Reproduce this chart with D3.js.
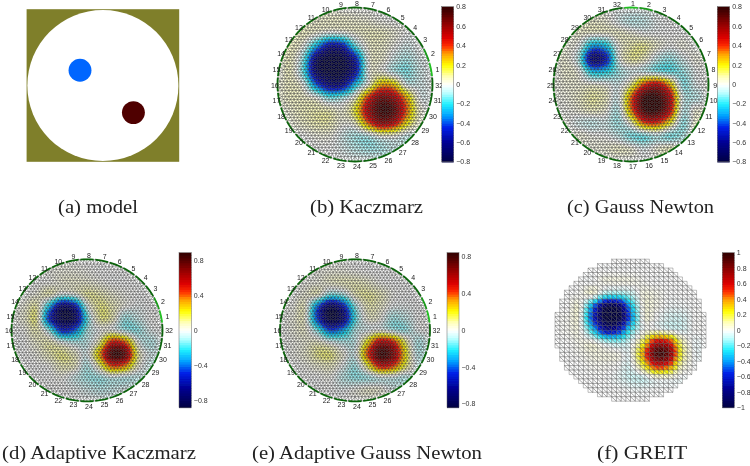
<!DOCTYPE html>
<html>
<head>
<meta charset="utf-8">
<style>
  body { margin: 0; background: #fff; }
  svg { display: block; }
  .caption { font-family: "Liberation Serif", serif; font-size: 18.5px; fill: #222; }
  .elec { font-family: "Liberation Sans", sans-serif; font-size: 7px; fill: #222; text-anchor: middle; }
  .tick text { font-family: "Liberation Sans", sans-serif; font-size: 7px; fill: #333; }
</style>
</head>
<body>
<div id="container"></div>
<script src="https://cdn.jsdelivr.net/npm/d3@7"></script>
<script>
// colormap, stops are fraction of the bar's limit
const cmapStops = [-1, -0.75, -0.55, -0.4, -0.25, -0.1, 0, 0.1, 0.25, 0.4, 0.5, 0.6, 0.75, 1];
const cmapColors = ["#000040", "#000090", "#0020e8", "#00a0ff", "#20f0ff", "#c0ffff", "#ffffff",
                    "#ffffc0", "#ffff00", "#ffa000", "#ff3000", "#e00000", "#a00000", "#300000"];

// conductivity change on a 13x13 grid, in hundredths (top row first)
const fieldKaczmarz = [
  [0,0,0,0,0,0,0,0,0,0,0,0,0],
  [0,0,2,4,5,5,4,3,1,0,0,0,0],
  [0,2,6,2,-3,-2,3,6,6,3,0,0,0],
  [0,6,0,-28,-56,-52,-16,3,5,1,-3,0,0],
  [0,6,-12,-66,-80,-78,-52,-1,4,-3,-8,-2,0],
  [0,6,-15,-68,-80,-79,-55,-2,3,-6,-12,-4,0],
  [2,6,-1,-38,-62,-60,-25,2,28,25,-2,-3,0],
  [2,6,5,0,-14,-10,4,40,65,57,28,0,0],
  [0,4,7,8,7,3,17,55,77,72,37,5,0],
  [0,2,5,8,8,2,6,36,60,52,22,3,0],
  [0,0,0,2,2,-3,-8,-6,3,3,-4,-3,0],
  [0,0,0,0,0,-2,-6,-9,-8,-4,-2,0,0],
  [0,0,0,0,0,0,0,0,0,0,0,0,0]
];
const fieldGaussNewton = [
  [0,0,0,0,0,0,0,0,0,0,0,0,0],
  [0,0,2,4,3,-2,-6,-5,-1,0,0,0,0],
  [0,0,4,3,3,5,3,0,0,0,0,0,0],
  [0,2,-2,-30,-26,0,8,10,4,0,2,0,0],
  [0,3,-10,-64,-52,-4,9,6,-5,-10,-3,2,0],
  [0,4,0,-24,-22,-10,-3,-4,-10,-14,-10,-1,0],
  [1,3,3,3,1,-3,10,40,52,28,-10,-2,1],
  [1,2,5,9,6,-2,35,76,79,54,-2,-6,1],
  [0,1,3,6,3,-6,33,75,79,52,-4,3,0],
  [0,1,-3,-5,-3,-9,6,38,42,20,-10,4,0],
  [0,0,3,1,0,-5,-12,-12,-6,-12,-8,4,0],
  [0,0,0,2,3,5,3,-2,3,6,3,0,0],
  [0,0,0,0,0,0,0,0,0,0,0,0,0]
];
const fieldAdaptiveKaczmarz = [
  [0,0,0,0,0,0,0,0,0,0,0,0,0],
  [0,0,0,1,2,2,1,0,0,0,0,0,0],
  [0,0,0,1,3,4,4,2,0,0,0,0,0],
  [0,0,3,7,-5,-2,10,9,4,1,0,0,0],
  [0,3,9,-30,-75,-62,-5,12,8,1,-1,0,0],
  [0,4,10,-50,-84,-77,-18,10,8,-10,-5,0,0],
  [0,1,8,-12,-52,-42,-10,0,2,-8,-12,-2,0],
  [0,0,5,8,-2,-8,-6,10,50,42,2,-8,0],
  [0,0,2,8,12,6,-2,32,83,76,14,-3,0],
  [0,0,0,1,8,6,-8,12,45,38,6,-4,0],
  [0,0,0,0,1,-4,-10,-10,-4,-6,-6,0,0],
  [0,0,0,0,0,-1,-4,-7,-5,-2,0,0,0],
  [0,0,0,0,0,0,0,0,0,0,0,0,0]
];
const fieldAdaptiveGaussNewton = [
  [0,0,0,0,0,0,0,0,0,0,0,0,0],
  [0,0,0,1,2,2,1,0,0,0,0,0,0],
  [0,0,1,2,4,6,7,5,1,0,0,0,0],
  [0,0,3,4,-14,-10,6,10,7,1,0,0,0],
  [0,1,4,-40,-75,-56,-12,7,5,-1,-1,0,0],
  [0,2,3,-45,-82,-68,-18,3,2,-9,-6,0,0],
  [0,2,4,-14,-42,-32,-8,-2,2,-6,-10,-1,0],
  [0,1,3,5,-2,-7,-5,22,55,48,14,-8,0],
  [0,1,4,11,12,3,-2,40,80,68,24,-6,0],
  [0,0,1,4,6,-1,-9,16,50,44,16,-3,0],
  [0,0,0,0,1,-6,-11,-9,-3,-3,-7,-1,0],
  [0,0,0,0,0,-1,1,4,3,-2,-1,0,0],
  [0,0,0,0,0,0,0,0,0,0,0,0,0]
];
const fieldGreit = [
  [0,0,0,0,0,0,0,0,0,0,0,0,0],
  [0,0,0,0,0,0,0,0,0,0,0,0,0],
  [0,0,0,0,2,2,2,1,0,0,0,0,0],
  [0,0,1,3,-15,-18,-10,3,2,0,0,0,0],
  [0,0,2,-42,-92,-90,-35,2,2,-1,-1,0,0],
  [0,1,0,-55,-100,-100,-45,1,0,-4,-5,0,0],
  [0,1,1,-28,-68,-62,-22,0,4,0,-4,0,0],
  [0,0,2,2,-8,-12,-4,20,62,58,14,-1,0],
  [0,0,1,3,3,2,0,38,92,85,22,0,0],
  [0,0,0,1,1,0,-3,20,55,48,10,0,0],
  [0,0,0,0,0,-2,-6,-5,3,3,-1,0,0],
  [0,0,0,0,0,0,-1,-1,0,0,0,0,0],
  [0,0,0,0,0,0,0,0,0,0,0,0,0]
];

const ticksEvery02 = [-0.8, -0.6, -0.4, -0.2, 0, 0.2, 0.4, 0.6, 0.8];
const ticksEvery04 = [-0.8, -0.4, 0, 0.4, 0.8];
const ticksGreit = [-1, -0.8, -0.6, -0.4, -0.2, 0, 0.2, 0.4, 0.6, 0.8, 1];
const electrodes = d3.range(1, 33);

// model image: inclusions in unit-disc coordinates
const modelInclusionX = [-0.30, 0.40];
const modelInclusionY = [-0.20, 0.355];
const modelInclusionR = [0.15, 0.15];
const modelInclusionColor = ["#0066ff", "#4f0000"];

const svg = d3.select("#container").append("svg")
    .attr("width", 750)
    .attr("height", 466);

svg.append("defs").append("filter")
    .attr("id", "soft")
    .attr("filterUnits", "userSpaceOnUse")
    .attr("x", 0).attr("y", 0).attr("width", 750).attr("height", 466)
  .append("feGaussianBlur")
    .attr("stdDeviation", 0.4);

const root = svg.append("g").attr("filter", "url(#soft)");

const cmap = d3.scaleLinear().domain(cmapStops).range(cmapColors).clamp(true);

// Catmull-Rom so the coarse grid doesn't show as diamonds
function cubic(p0, p1, p2, p3, t) {
    return p1 + 0.5 * t * (p2 - p0 + t * (2 * p0 - 5 * p1 + 4 * p2 - p3 + t * (3 * (p1 - p2) + p3 - p0)));
}

function sampleField(field, u, v) {
    const n = field.length - 1;
    const gx = Math.max(0, Math.min(n - 1e-6, (u + 1) / 2 * n));
    const gy = Math.max(0, Math.min(n - 1e-6, (v + 1) / 2 * n));
    const ix = Math.floor(gx), iy = Math.floor(gy);
    const at = (r, c) => field[Math.max(0, Math.min(n, r))][Math.max(0, Math.min(n, c))];
    const rows = [-1, 0, 1, 2].map(dr =>
        cubic(at(iy + dr, ix - 1), at(iy + dr, ix), at(iy + dr, ix + 1), at(iy + dr, ix + 2), gx - ix));
    return cubic(rows[0], rows[1], rows[2], rows[3], gy - iy) / 100;
}

// triangle mesh of the unit disc, shared by the four EIT panels
function buildMesh() {
    const s = 0.045;
    const pts = [];
    d3.range(-30, 31).forEach(j => {
        d3.range(-30, 31).forEach(i => {
            const x = (i + (j % 2 ? 0.5 : 0)) * s;
            const y = j * s * Math.sqrt(3) / 2;
            if (Math.hypot(x, y) < 1 - s * 0.6) pts.push([x, y]);
        });
    });
    const rim = Math.round(2 * Math.PI / s);
    d3.range(rim).forEach(k => {
        const a = 2 * Math.PI * k / rim;
        pts.push([Math.cos(a), Math.sin(a)]);
    });
    const del = d3.Delaunay.from(pts);
    const tris = [];
    for (let k = 0; k < del.triangles.length; k += 3) {
        tris.push([pts[del.triangles[k]], pts[del.triangles[k + 1]], pts[del.triangles[k + 2]]]);
    }
    return tris;
}

const meshTriangles = buildMesh();

function drawColorbar(box, limit, ticks) {
    const y = d3.scaleLinear().domain([-limit, limit]).range([box.bottom, box.top]);
    const bands = d3.range(64).map(i => -limit + (i + 0.5) * 2 * limit / 64);
    const g = root.append("g");
    g.selectAll("rect.band")
        .data(bands)
        .enter().append("rect")
        .attr("class", "band")
        .attr("x", box.left)
        .attr("y", d => y(d + limit / 64))
        .attr("width", box.right - box.left)
        .attr("height", (box.bottom - box.top) / 64 + 0.8)
        .attr("fill", d => cmap(d / limit));
    g.append("rect")
        .attr("x", box.left).attr("y", box.top)
        .attr("width", box.right - box.left).attr("height", box.bottom - box.top)
        .attr("fill", "none").attr("stroke", "#666").attr("stroke-width", 0.5);
    const axis = d3.axisRight(y)
        .tickValues(ticks)
        .tickSize(0)
        .tickPadding(2.5)
        .tickFormat(d3.format(".1~f"));
    g.append("g")
        .attr("transform", "translate(" + box.right + ",0)")
        .call(axis)
        .call(a => a.select(".domain").remove());
}

function drawEit(p) {
    const x = d3.scaleLinear().domain([-1, 1]).range([p.cx - p.rx, p.cx + p.rx]);
    const y = d3.scaleLinear().domain([-1, 1]).range([p.cy - p.ry, p.cy + p.ry]);
    const g = root.append("g");

    const line = d3.line().x(d => x(d[0])).y(d => y(d[1]));
    g.selectAll("path.tri")
        .data(meshTriangles)
        .enter().append("path")
        .attr("class", "tri")
        .attr("d", d => line(d) + "Z")
        .attr("fill", d => {
            const u = (d[0][0] + d[1][0] + d[2][0]) / 3;
            const v = (d[0][1] + d[1][1] + d[2][1]) / 3;
            return cmap(sampleField(p.field, u, v) / p.limit);
        })
        .attr("stroke", "#222")
        .attr("stroke-width", 0.32);

    // clockwise angle from the top of the disc for electrode i
    const angle = i => p.dir * (i - p.topElectrode) * 11.25 * Math.PI / 180;

    g.selectAll("path.elec-arc")
        .data(electrodes)
        .enter().append("path")
        .attr("class", "elec-arc")
        .attr("d", i => line(d3.range(-5, 5.1, 2.5).map(off => {
            const a = angle(i) + off * Math.PI / 180;
            return [Math.sin(a), -Math.cos(a)];
        })))
        .attr("fill", "none")
        .attr("stroke-width", 1.8)
        .attr("stroke", i => i === 1 ? "#20c020" : i === 2 ? "#1a9a1a" : "#0a640a");

    g.selectAll("text.elec")
        .data(electrodes)
        .enter().append("text")
        .attr("class", "elec")
        .attr("x", i => x(1.06 * Math.sin(angle(i))) + 2)
        .attr("y", i => y(-1.06 * Math.cos(angle(i))) + 3)
        .text(i => i);

    drawColorbar(p.bar, p.limit, p.ticks);
}

function drawGreit(p) {
    const n = 32;
    const col = d3.scaleBand().domain(d3.range(n)).range([p.cx - p.rx, p.cx + p.rx]);
    const row = d3.scaleBand().domain(d3.range(n)).range([p.cy - p.ry, p.cy + p.ry]);
    const cells = [];
    d3.range(n).forEach(r => d3.range(n).forEach(c => {
        if (Math.hypot(c + 0.5 - n / 2, r + 0.5 - n / 2) < 16.1) cells.push({ r, c });
    }));
    const g = root.append("g");
    const cw = col.bandwidth(), ch = row.bandwidth();
    const fillAt = (fu, fv, d) => cmap(sampleField(p.field, ((d.c + fu) / n) * 2 - 1, ((d.r + fv) / n) * 2 - 1) / p.limit);

    // each pixel is two triangles split along the "\" diagonal
    g.selectAll("path.low")
        .data(cells)
        .enter().append("path")
        .attr("d", d => {
            const X = col(d.c), Y = row(d.r);
            return `M${X},${Y}L${X + cw},${Y + ch}L${X},${Y + ch}Z`;
        })
        .attr("fill", d => fillAt(0.33, 0.67, d))
        .attr("stroke", "#444").attr("stroke-width", 0.35);
    g.selectAll("path.up")
        .data(cells)
        .enter().append("path")
        .attr("d", d => {
            const X = col(d.c), Y = row(d.r);
            return `M${X},${Y}L${X + cw},${Y}L${X + cw},${Y + ch}Z`;
        })
        .attr("fill", d => fillAt(0.67, 0.33, d))
        .attr("stroke", "#444").attr("stroke-width", 0.35);

    drawColorbar(p.bar, p.limit, p.ticks);
}

function drawModel() {
    const x = d3.scaleLinear().domain([-1, 1]).range([26.6, 179.2]);
    const y = d3.scaleLinear().domain([-1, 1]).range([9.2, 161.8]);
    const g = root.append("g");
    g.append("rect")
        .attr("x", x(-1)).attr("y", y(-1))
        .attr("width", x(1) - x(-1)).attr("height", y(1) - y(-1))
        .attr("fill", "#7f7f2a");
    g.append("circle")
        .attr("cx", x(0)).attr("cy", y(0))
        .attr("r", x(0.99) - x(0))
        .attr("fill", "#fff");
    g.selectAll("circle.inclusion")
        .data(modelInclusionX)
        .enter().append("circle")
        .attr("class", "inclusion")
        .attr("cx", d => x(d))
        .attr("cy", (d, i) => y(modelInclusionY[i]))
        .attr("r", (d, i) => x(modelInclusionR[i]) - x(0))
        .attr("fill", (d, i) => modelInclusionColor[i]);
}

drawModel();

drawEit({ field: fieldKaczmarz, limit: 0.8, ticks: ticksEvery02, topElectrode: 8, dir: -1,
          cx: 355, cy: 84.5, rx: 77.5, ry: 77,
          bar: { left: 441.7, right: 453.7, top: 6.7, bottom: 161.7 } });
drawEit({ field: fieldGaussNewton, limit: 0.8, ticks: ticksEvery02, topElectrode: 1, dir: 1,
          cx: 631, cy: 84.5, rx: 77.5, ry: 77,
          bar: { left: 717.3, right: 729.7, top: 6.7, bottom: 161.7 } });
drawEit({ field: fieldAdaptiveKaczmarz, limit: 0.885, ticks: ticksEvery04, topElectrode: 8, dir: -1,
          cx: 87, cy: 330.3, rx: 75.5, ry: 71,
          bar: { left: 179, right: 191.3, top: 252.7, bottom: 407.3 } });
drawEit({ field: fieldAdaptiveGaussNewton, limit: 0.84, ticks: ticksEvery04, topElectrode: 8, dir: -1,
          cx: 355, cy: 330.3, rx: 75, ry: 71,
          bar: { left: 447, right: 459, top: 252.7, bottom: 407.3 } });
drawGreit({ field: fieldGreit, limit: 1, ticks: ticksGreit,
            cx: 630.5, cy: 330.2, rx: 75.5, ry: 71,
            bar: { left: 722.3, right: 734.3, top: 252.7, bottom: 407.3 } });

const captionText = ["(a) model", "(b) Kaczmarz", "(c) Gauss Newton", "(d) Adaptive Kaczmarz", "(e) Adaptive Gauss Newton", "(f) GREIT"];
const captionLeft = [58, 310, 567, 2, 252, 597];
const captionRight = [138, 423, 714, 196, 482, 687];
const captionBase = [213, 213, 213, 459, 459, 459];

root.selectAll("text.caption")
    .data(captionText)
    .enter().append("text")
    .attr("class", "caption")
    .attr("x", (d, i) => captionLeft[i])
    .attr("y", (d, i) => captionBase[i])
    .attr("textLength", (d, i) => captionRight[i] - captionLeft[i])
    .attr("lengthAdjust", "spacingAndGlyphs")
    .text(d => d);
</script>
</body>
</html>
